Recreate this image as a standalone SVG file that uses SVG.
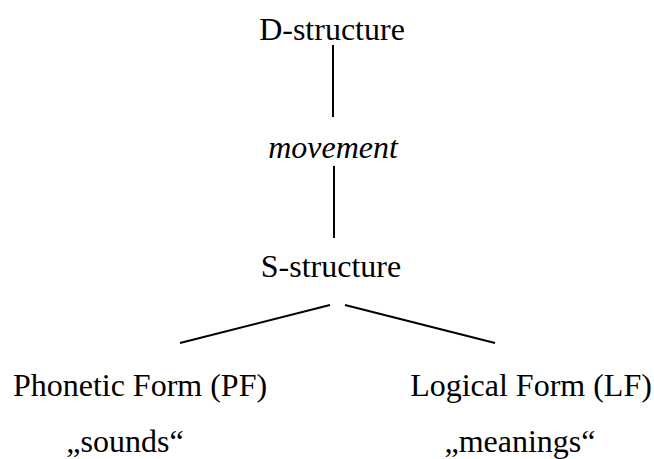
<svg xmlns="http://www.w3.org/2000/svg" width="654" height="459" viewBox="0 0 654 459">
<style>
text { font-size: 32px; fill: #000; text-anchor: middle; }
.it { font-style: italic; }
.conn line { stroke: #000; stroke-width: 2; }
</style>
<rect width="654" height="459" fill="#fff"/>
<g font-family="'Liberation Serif', Tinos, 'DejaVu Serif', serif">
<g id="d-structure"><text x="332" y="40">D-structure</text></g>
<g id="movement"><text class="it" x="333" y="158">movement</text></g>
<g id="s-structure"><text x="331" y="277">S-structure</text></g>
<g id="pf"><text x="140" y="396">Phonetic Form (PF)</text><text x="125" y="452">„sounds“</text></g>
<g id="lf"><text x="531" y="396">Logical Form (LF)</text><text x="520" y="452">„meanings“</text></g>
</g>
<g class="conn" id="connectors">
<line x1="333" y1="45" x2="333" y2="117"/>
<line x1="334" y1="166" x2="334" y2="238"/>
<line x1="330" y1="305" x2="180" y2="343"/>
<line x1="345" y1="305" x2="495" y2="343"/>
</g>
</svg>
